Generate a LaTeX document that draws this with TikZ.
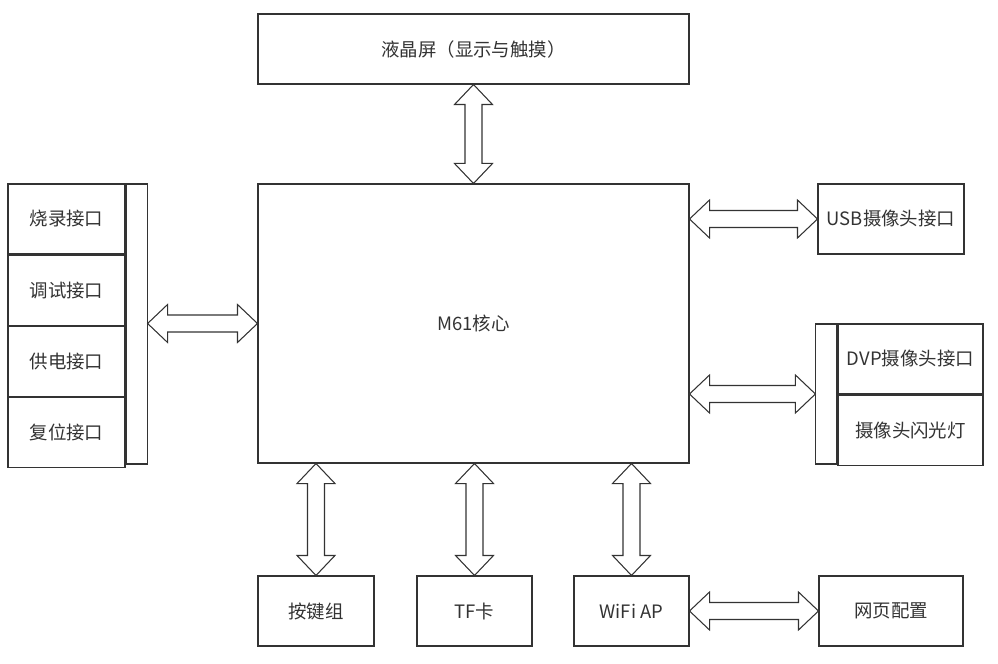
\documentclass[tikz,border=0pt]{standalone}
\usepackage{fontspec}
\setmainfont{Noto Sans CJK SC}
\usepackage{tikz}
\usetikzlibrary{positioning}
\usetikzlibrary{calc}
\definecolor{linec}{HTML}{333333}
\tikzset{
	box/.style ={rectangle, draw=linec, line width=0.6pt, inner sep=0pt,
	 font=\fontsize{10.5}{12}\selectfont, text=black!80},
	cell/.style = {box, minimum width=2.34cm, minimum height=1.4cm},
	unit/.style = {box, minimum height=1.4cm},
	bigarrow/.style = {draw=linec, line width=0.6pt, fill=white, line join=miter},
}
\newcommand{\harrow}[2]{\draw[bigarrow] (#1) -- ++(0.4,0.38) -- ++(0,-0.21)
  -- ($(#2)+(-0.4,0.17)$) -- ++(0,0.21) -- (#2) -- ++(-0.4,-0.38) -- ++(0,0.21)
  -- ($(#1)+(0.4,-0.17)$) -- ++(0,-0.21) -- cycle;}
\newcommand{\varrow}[2]{\draw[bigarrow] (#1) -- ++(0.38,-0.4) -- ++(-0.21,0)
  -- ($(#2)+(0.17,0.4)$) -- ++(0.21,0) -- (#2) -- ++(-0.38,0.4) -- ++(0.21,0)
  -- ($(#1)+(-0.17,-0.4)$) -- ++(-0.21,0) -- cycle;}
\begin{document}
\begin{tikzpicture}
	\useasboundingbox (0,0) rectangle (19.96,-13.28);
	\node (lcd) [unit, minimum width=8.62cm] at (9.47,-0.98) {液晶屏（显示与触摸）};
	\node (core) [box, minimum width=8.62cm, minimum height=5.58cm] at (9.47,-6.47) {M61核心};
	\node (burn) [cell] at (1.33,-4.38) {烧录接口};
	\node (debug) [cell, below=0pt of burn] {调试接口};
	\node (power) [cell, below=0pt of debug] {供电接口};
	\node (reset) [cell, below=0pt of power] {复位接口};
	\node (lbar) [box, minimum width=0.42cm, minimum height=5.6cm, anchor=north west] at (burn.north east) {};
	\node (usb) [unit, minimum width=2.92cm] at (17.82,-4.38) {USB摄像头接口};
	\node (dvp) [unit, minimum width=2.9cm] at (18.21,-7.18) {DVP摄像头接口};
	\node (flash) [unit, minimum width=2.9cm, below=0pt of dvp] {摄像头闪光灯};
	\node (rbar) [box, minimum width=0.42cm, minimum height=2.8cm, anchor=north east] at (dvp.north west) {};
	\node (keys) [unit, minimum width=2.32cm] at (6.32,-12.22) {按键组};
	\node (tf) [unit, minimum width=2.3cm] at (9.49,-12.22) {TF卡};
	\node (wifi) [unit, minimum width=2.3cm] at (12.63,-12.22) {WiFi AP};
	\node (web) [unit, minimum width=2.88cm] at (17.82,-12.22) {网页配置};
	\varrow{lcd.south}{core.north}
	\harrow{lbar.east |- core.west}{core.west}
	\harrow{core.east |- usb.west}{usb.west}
	\harrow{core.east |- rbar.west}{rbar.west}
	\varrow{core.south -| keys.north}{keys.north}
	\varrow{core.south -| tf.north}{tf.north}
	\varrow{core.south -| wifi.north}{wifi.north}
	\harrow{wifi.east}{web.west}
\end{tikzpicture}
\end{document}
